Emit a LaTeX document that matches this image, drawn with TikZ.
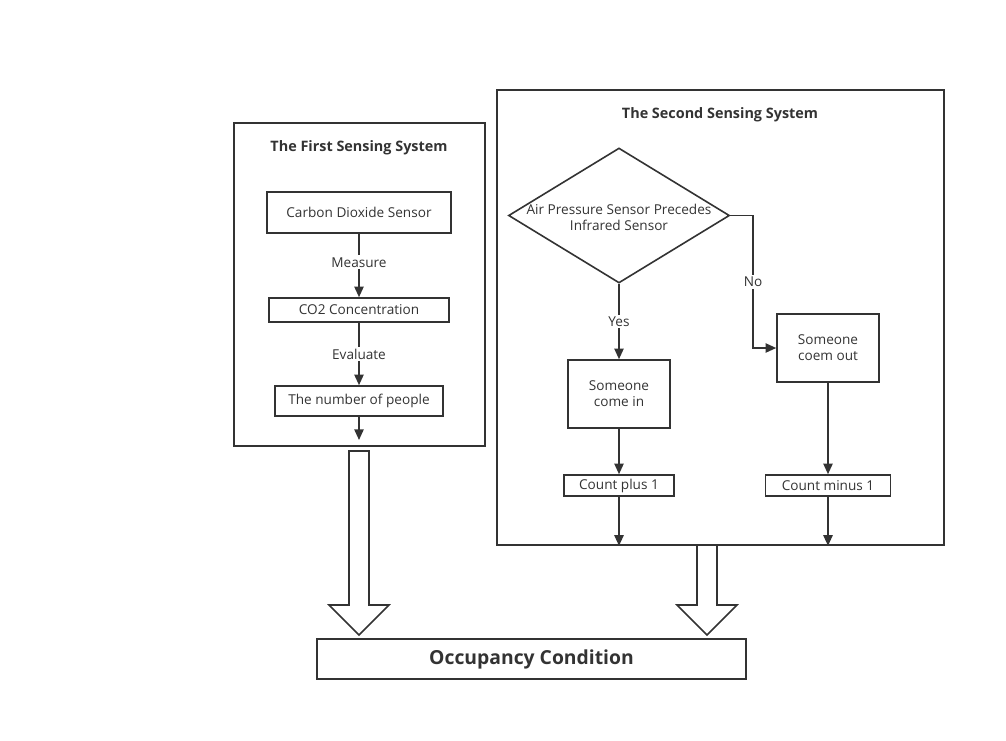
\documentclass[tikz,border=0pt]{standalone}
\usepackage{fontspec}
\setmainfont{Open Sans}
\usetikzlibrary{shapes.geometric,calc,arrows.meta}
\definecolor{ink}{HTML}{333333}
\newcommand\hollowdown[2]{\draw[hollow] ($(#1)+(-10,0)$) -- ($(#2)+(-10,-30)$) -- ($(#2)+(-30,-30)$) -- (#2) -- ($(#2)+(30,-30)$) -- ($(#2)+(10,-30)$) -- ($(#1)+(10,0)$) -- cycle;}
\begin{document}
\begin{tikzpicture}[x=0.75pt,y=-0.75pt,
  every node/.style={text=ink,font=\fontsize{10.2pt}{12pt}\selectfont},
  frame/.style={draw=ink,line width=1.2pt,inner sep=0pt},
  box/.style={draw=ink,line width=1.2pt,inner sep=0pt,align=center},
  title/.style={font=\fontsize{10.8pt}{13pt}\selectfont\bfseries},
  lab/.style={fill=white,inner sep=1.5pt},
  flow/.style={draw=ink,line width=1.2pt,-{Triangle[length=8pt,width=7pt]}},
  hollow/.style={draw=ink,line width=1.2pt,fill=white,line join=miter}]
\useasboundingbox (0,0) rectangle (1006,740);
% first system
\node[frame,minimum width=188.25pt,minimum height=242.25pt] (left) at (359.5,284.5) {};
\node[title] (t1) at (359,148) {The First Sensing System};
\node[box,minimum width=138pt,minimum height=30.75pt] (co2s) at (359,212.5) {Carbon Dioxide Sensor};
\node[box,minimum width=135pt,minimum height=18pt] (co2c) at (359,310) {CO2 Concentration};
\node[box,minimum width=126pt,minimum height=22.5pt] (num) at (359,401) {The number of people};
\coordinate (numout) at (359,440);
\draw[flow] (co2s) -- node[lab,pos=0.45]{Measure} (co2c);
\draw[flow] (co2c) -- node[lab]{Evaluate} (num);
\draw[flow] (num) -- (numout);
% second system
\node[frame,minimum width=335.25pt,minimum height=341.25pt] (right) at (720.5,317.5) {};
\node[title] (t2) at (720,115) {The Second Sensing System};
\node[diamond,draw=ink,line width=1.2pt,inner sep=0pt,minimum width=165.75pt,minimum height=101.25pt] (dia) at (619,215.5) {};
\node[align=center] (diat) at (619,217) {Air Pressure Sensor Precedes\\Infrared Sensor};
\node[box,minimum width=76.5pt,minimum height=51pt] (in) at (619,394) {Someone\\come in};
\node[box,minimum width=76.5pt,minimum height=51pt] (out) at (828,348) {Someone\\coem out};
\node[box,minimum width=82.5pt,minimum height=15.75pt] (plus) at (619,485.5) {Count plus 1};
\node[box,minimum width=93.75pt,minimum height=15.75pt] (minus) at (828,485.5) {Count minus 1};
\coordinate (noturn) at (753,215.5);
\draw[flow] (dia.south) -- node[lab]{Yes} (dia.south |- in.north);
\draw[flow] (dia.east) -- (noturn) |- node[lab,pos=0.25]{No} (out.west);
\draw[flow] (in) -- (in.south |- plus.north);
\draw[flow] (out) -- (out.south |- minus.north);
\draw[flow] (plus) -- (plus.south |- right.south);
\draw[flow] (minus) -- (minus.south |- right.south);
% result
\node[box,minimum width=321.75pt,minimum height=30pt,font=\fontsize{14.5pt}{17pt}\selectfont\bfseries] (occ) at (531.5,659) {Occupancy Condition};
\coordinate (la1) at (359,451);
\coordinate (la2) at (359,635);
\coordinate (ra1) at (707,545);
\coordinate (ra2) at (707,635);
\hollowdown{la1}{la2}
\hollowdown{ra1}{ra2}
\end{tikzpicture}
\end{document}
